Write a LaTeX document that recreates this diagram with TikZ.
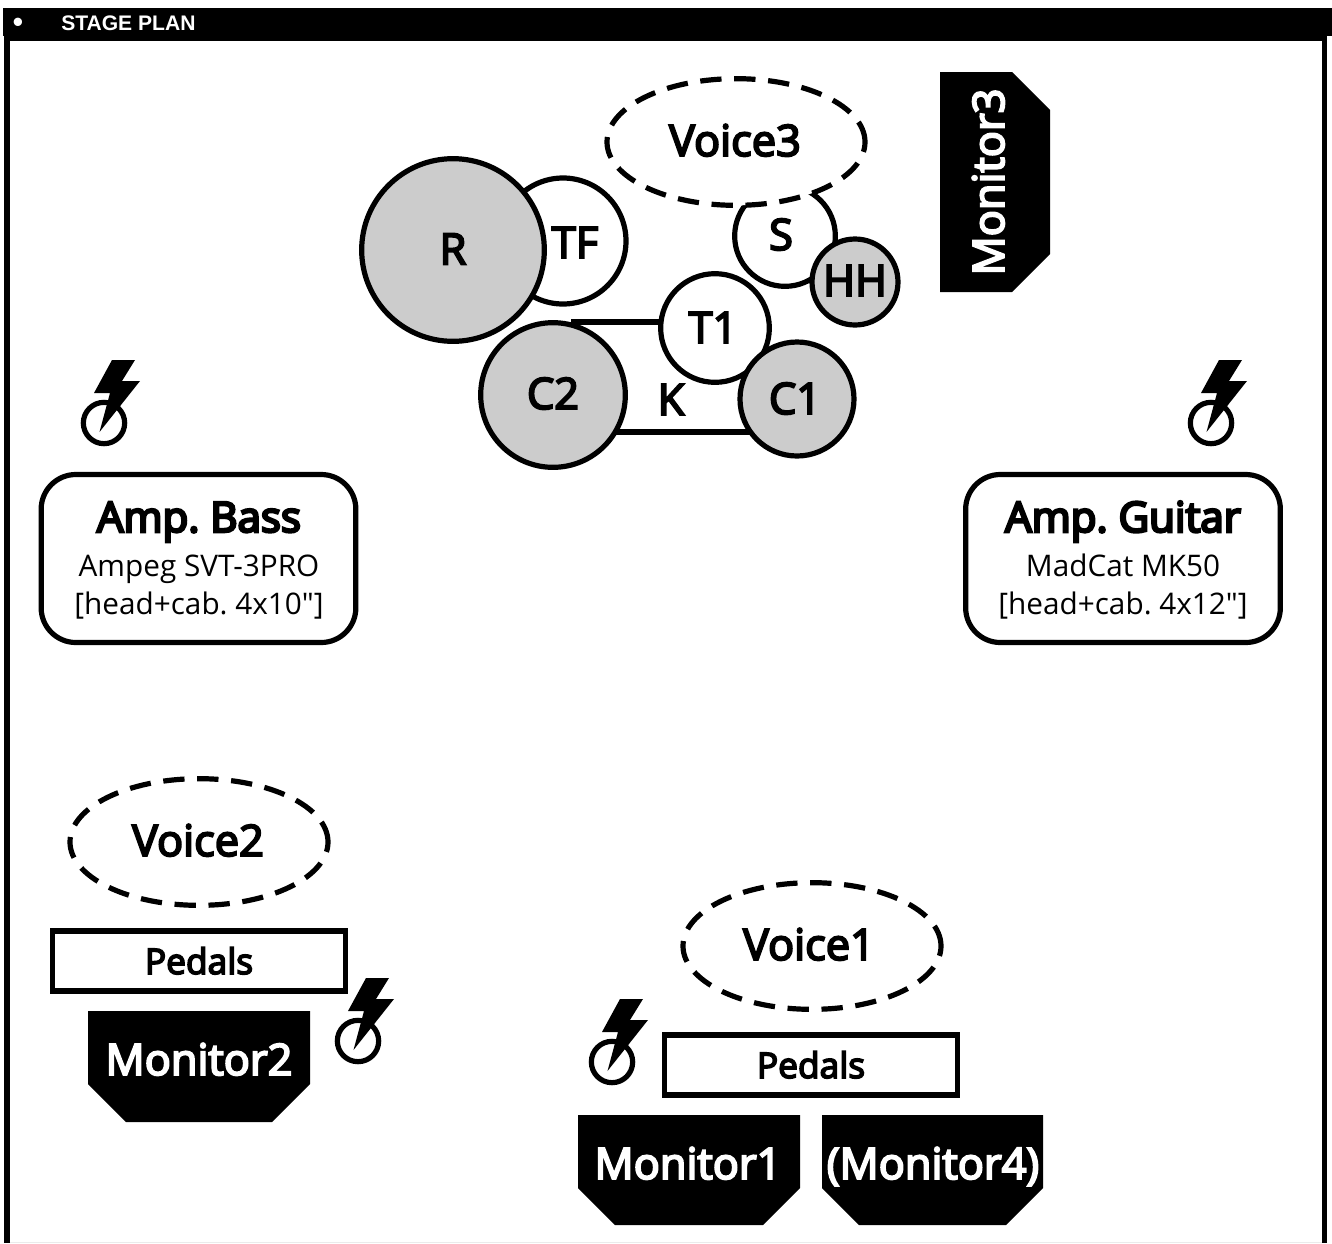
\documentclass[tikz,border=0pt]{standalone}
\usepackage{fontspec}
\setmainfont{Open Sans}
\newfontfamily\regf{Open Sans}
\newfontfamily\semif[FakeBold=4.5]{Open Sans}
\newfontfamily\boldf[FakeBold=6]{Open Sans}
\newfontfamily\headfont{Liberation Sans}
\usetikzlibrary{shapes.geometric}
\newcommand{\fs}[1]{\fontsize{#1}{#1}\selectfont}
\tikzset{
  x=0.75pt,y=-0.75pt,
  outl/.style={line width=3.9pt},
  drum/.style={circle,draw=black,outl,fill=white,inner sep=0pt,minimum size=#1},
  cym/.style={drum=#1,fill=black!20},
  lbl/.style={anchor=base,inner sep=0pt,font=\semif\fs{32.5}},
  voice/.style={ellipse,draw=black,outl,fill=white,dash pattern=on 16pt off 9.5pt,inner sep=0pt,
     minimum width=193.5pt,minimum height=95pt},
  pedalbox/.style={rectangle,draw=black,outl,fill=white,inner sep=0pt,
     minimum width=220pt,minimum height=45pt},
  pedtext/.style={lbl,font=\semif\fs{26.5}},
  ampbox/.style={rectangle,rounded corners=26pt,draw=black,outl,fill=white,inner sep=0pt,
     minimum width=236pt,minimum height=126pt},
  amptitle/.style={anchor=base,inner sep=0pt,font=\boldf\fs{31.5}},
  ampline/.style={anchor=base,inner sep=0pt,font=\regf\fs{22.3}},
  montext/.style={lbl,text=white},
  plug/.pic={
    \draw[outl,fill=white] (0,0) circle[radius=15.5pt];
    \fill[black] (8,-63) -- (31,-63) -- (18,-42) -- (36,-42) -- (-4.5,9) -- (6,-30) -- (-10,-30) -- cycle;
  }
}
\begin{document}
\frenchspacing
\begin{tikzpicture}
\useasboundingbox (0,0) rectangle (1332,1243);
\fill[white] (0,0) rectangle (1332,1243);
% frame and heading band
\fill[black!8] (10,1241.5) rectangle (1322,1243);
\fill[black] (4,36) rectangle (9.7,1243);
\fill[black] (1322,36) rectangle (1327,1243);
\fill[black] (3,8) rectangle (1332,36);
\fill[black] (4,36) rectangle (1327,41);
\node[text=white,inner sep=0pt,font=\fs{23}\headfont] (bul) at (18,25) {•};
\node[anchor=west,text=white,inner sep=0pt,font=\fs{15.8}\headfont\bfseries] (title) at (61,23.5) {STAGE PLAN};
% drums
\node[rectangle,draw=black,outl,inner sep=0pt,minimum width=140pt,minimum height=82.5pt] (K) at (666.5,377) {};
\node[lbl] (kl) at (671,415) {K};
\node[drum=94.5pt] (TF) at (563,241) {};
\node[lbl] (tfl) at (575,258) {TF};
\node[cym=137pt] (R) at (453,250) {};
\node[lbl] (rl) at (453,264.5) {R};
\node[drum=75.5pt] (S) at (785,236) {};
\node[lbl] (sl) at (781,250) {S};
\node[cym=64.5pt] (HH) at (855,282) {};
\node[lbl] (hhl) at (855,296) {HH};
\node[drum=81.5pt] (T1) at (715,328) {};
\node[lbl] (t1l) at (713,343) {T1};
\node[cym=85.5pt] (C1) at (797,399) {};
\node[lbl] (c1l) at (795,414) {C1};
\node[cym=108.5pt] (C2) at (553,395) {};
\node[lbl] (c2l) at (553,409) {C2};
% voices
\node[voice] (V3) at (736,142) {};
\node[lbl] (v3l) at (735,156) {Voice3};
\node[voice] (V2) at (199,842) {};
\node[lbl] (v2l) at (198,856) {Voice2};
\node[voice] (V1) at (812,946) {};
\node[lbl] (v1l) at (809,960) {Voice1};
% monitors
\fill[black] (940,72) -- (1012,72) -- (1050,110) -- (1050,254) -- (1012,292) -- (940,292) -- cycle;
\node[montext,rotate=90,anchor=base] (M3) at (1004,182) {Monitor3};
\fill[black] (88,1011) -- (310,1011) -- (310,1084) -- (272,1122) -- (126,1122) -- (88,1084) -- cycle;
\node[montext] (M2) at (199,1075) {Monitor2};
\fill[black] (578,1115) -- (800,1115) -- (800,1188) -- (763,1225) -- (615,1225) -- (578,1188) -- cycle;
\node[montext] (M1) at (688,1179) {Monitor1};
\fill[black] (822,1115) -- (1043,1115) -- (1043,1188) -- (1006,1225) -- (859,1225) -- (822,1188) -- cycle;
\node[montext] (M4) at (933,1179) {(Monitor4)};
% pedals
\node[pedalbox] (P2) at (199,961) {};
\node[pedtext] (P2l) at (199,974) {Pedals};
\node[pedalbox] (P1) at (811,1065) {};
\node[pedtext] (P1l) at (811,1078) {Pedals};
% amps
\node[ampbox] (AB) at (198.5,558.5) {};
\node[amptitle] (AB1) at (199,532) {Amp. Bass};
\node[ampline] (AB2) at (199,576) {Ampeg SVT-3PRO};
\node[ampline] (AB3) at (199,614) {[head+cab. 4x10"]};
\node[ampbox] (AG) at (1123,558.5) {};
\node[amptitle] (AG1) at (1123,532) {Amp. Guitar};
\node[ampline] (AG2) at (1123,576) {MadCat MK50};
\node[ampline] (AG3) at (1123,614) {[head+cab. 4x12"]};
% power symbols
\pic at (104,423) {plug};
\pic at (1211,423) {plug};
\pic at (358,1041) {plug};
\pic at (612,1062) {plug};
\end{tikzpicture}
\end{document}
